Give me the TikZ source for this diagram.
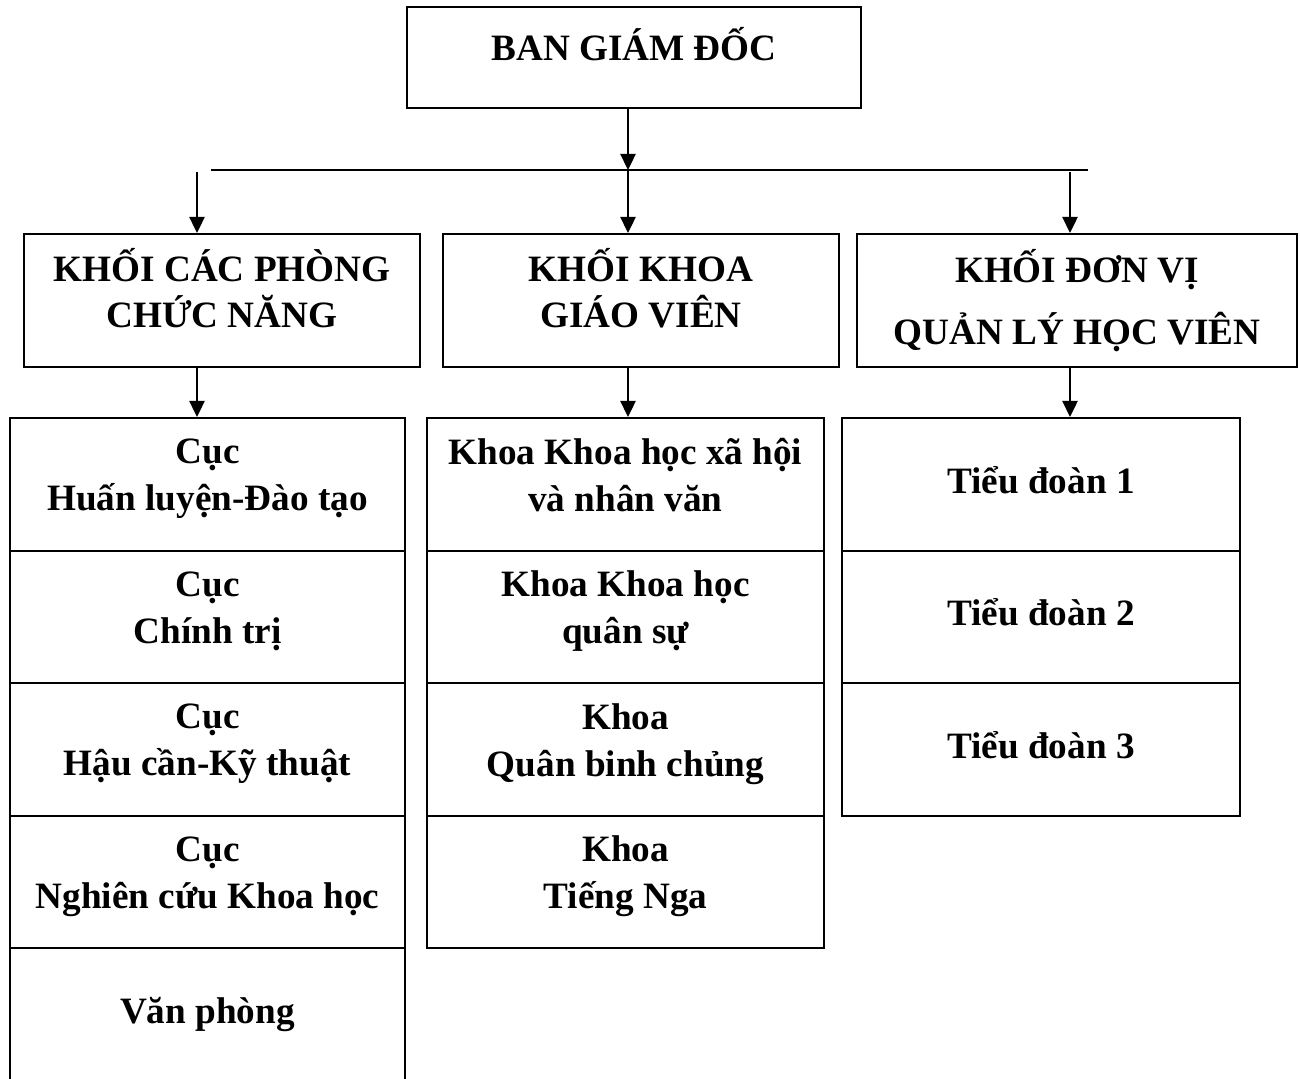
\documentclass[tikz,border=0pt]{standalone}
\usepackage{fontspec}
\setmainfont{Liberation Serif}
\usetikzlibrary{arrows.meta,positioning}

\begin{document}
\begin{tikzpicture}[
  x=0.5pt, y=-0.5pt,
  every node/.style={font=\bfseries},
  hdr/.style={rectangle, draw, line width=1pt, align=center, inner sep=0pt,
    font=\bfseries\fontsize{18.6}{23}\selectfont, minimum height=66.5pt},
  unit/.style={rectangle, draw, line width=1pt, align=center, inner sep=0pt,
    font=\bfseries\fontsize{18.6}{23.5}\selectfont, minimum height=66.25pt},
  arr/.style={-{Triangle[length=8pt,width=7.5pt]}, line width=1.2pt}]
\clip (0,0) rectangle (1300,1079);
% top
\node[hdr, minimum width=227pt, minimum height=50.5pt] (bgd) at (634,57.5) {BAN GIÁM ĐỐC\\[-9pt]};
% three blocks
\node[hdr, minimum width=198pt] (kpcn) at (222,300.5) {KHỐI CÁC PHÒNG\\CHỨC NĂNG\\[-10pt]};
\node[hdr, minimum width=198pt] (kkgv) at (641,300.5) {KHỐI KHOA\\GIÁO VIÊN\\[-10pt]};
\node[hdr, minimum width=220pt] (kdv) at (1077,300.5) {KHỐI ĐƠN VỊ\\[8pt]QUẢN LÝ HỌC VIÊN};
% left column
\node[unit, minimum width=197.5pt] (c1) at (207.5,484.25) {Cục\\Huấn luyện-Đào tạo\\[-14pt]};
\node[unit, minimum width=197.5pt] (c2) at (207.5,616.75) {Cục\\Chính trị\\[-14pt]};
\node[unit, minimum width=197.5pt] (c3) at (207.5,749.25) {Cục\\Hậu cần-Kỹ thuật\\[-14pt]};
\node[unit, minimum width=197.5pt] (c4) at (207.5,881.75) {Cục\\Nghiên cứu Khoa học\\[-14pt]};
\node[unit, minimum width=197.5pt, minimum height=68pt] (vp) at (207.5,1016) {Văn phòng\\[-18pt]};
% middle column
\node[unit, minimum width=198.5pt] (k1) at (625.5,484.25) {Khoa Khoa học xã hội\\và nhân văn\\[-14pt]};
\node[unit, minimum width=198.5pt] (k2) at (625.5,616.75) {Khoa Khoa học\\quân sự\\[-14pt]};
\node[unit, minimum width=198.5pt] (k3) at (625.5,749.25) {Khoa\\Quân binh chủng\\[-14pt]};
\node[unit, minimum width=198.5pt] (k4) at (625.5,881.75) {Khoa\\Tiếng Nga\\[-14pt]};
% right column
\node[unit, minimum width=199pt] (d1) at (1041,484.25) {Tiểu đoàn 1\\[-19pt]};
\node[unit, minimum width=199pt] (d2) at (1041,616.75) {Tiểu đoàn 2\\[-19pt]};
\node[unit, minimum width=199pt] (d3) at (1041,749.25) {Tiểu đoàn 3\\[-19pt]};
% connectors
\coordinate (busL) at (211,170); \coordinate (busR) at (1088,170);
\coordinate (busM) at (628,170);
\coordinate (tL) at (197,172); \coordinate (tR) at (1070,172);
\draw[line width=1.2pt] (busL) -- (busR);
\draw[arr] (bgd.south -| busM) -- (busM);
\draw[arr] (tL) -- (tL |- kpcn.north);
\draw[arr] (busM) -- (busM |- kkgv.north);
\draw[arr] (tR) -- (tR |- kdv.north);
\draw[arr] (kpcn.south -| tL) -- (c1.north -| tL);
\draw[arr] (kkgv.south -| busM) -- (k1.north -| busM);
\draw[arr] (kdv.south -| tR) -- (d1.north -| tR);
\end{tikzpicture}
\end{document}
